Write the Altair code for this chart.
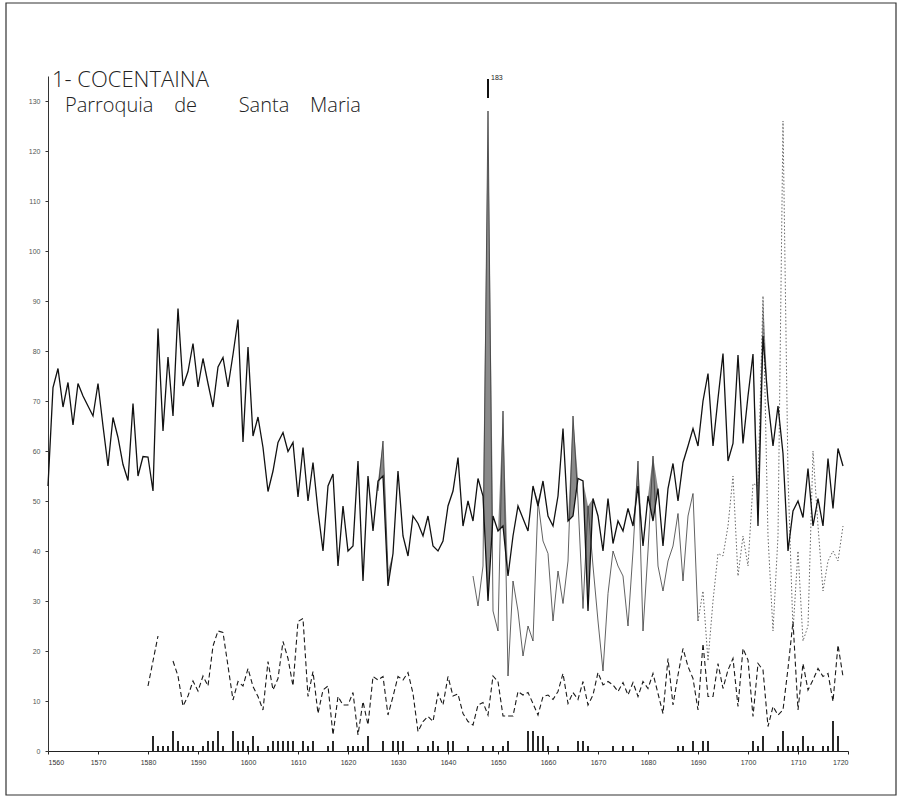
import altair as alt
import pandas as pd

# Annual series, Santa Maria parish (Cocentaina), 1560-1719
years = list(range(1560, 1720))

bautismos = [
    53, 72.7, 76.5, 68.8, 73.7, 65.2, 73.5, 71, 69, 67,            # 1560
    73.5, 65, 57, 66.7, 62.7, 57.3, 54.1, 69.5, 55, 58.9,           # 1570
    58.8, 52, 84.5, 64, 78.8, 67, 88.5, 73, 75.9, 81.5,             # 1580
    72.8, 78.5, 73.5, 68.8, 76.8, 78.7, 72.8, 79.3, 86.3, 61.8,     # 1590
    80.8, 63, 66.8, 60.7, 51.9, 56, 61.7, 63.7, 59.9, 61.7,         # 1600
    50.8, 60.7, 50, 57.7, 48, 40, 53, 55.4, 37, 49,                 # 1610
    40, 41, 58, 34, 55, 44, 54, 55, 33, 39.5,                       # 1620
    56, 43, 39, 47, 45.5, 43, 47, 41, 40, 42,                       # 1630
    49, 52, 58.7, 45, 50, 46, 54.5, 51, 30, 47,                     # 1640
    44, 45, 35, 43, 49, 46.5, 44, 53, 49, 54,                       # 1650
    47, 45, 51, 64.5, 46, 47, 54.5, 54, 28, 50.5,                   # 1660
    47, 40, 50.5, 41.5, 46, 44, 48.5, 45, 53, 41,                   # 1670
    51, 46, 52.5, 41, 52.5, 57.5, 50, 57.7, 61, 64.5,               # 1680
    61, 70, 75.5, 61, 70.5, 79.5, 58, 61.5, 79.2, 61.5,             # 1690
    71, 79.4, 45, 83, 70, 61, 69, 59.5, 40, 48,                     # 1700
    50, 46.7, 56.5, 45, 50.5, 45, 58.5, 48.5, 60.5, 57,             # 1710
]

# marriages start in 1580
matrimonios_desde_1580 = [
    13, 18, 23, None, None, 18, 15, 9, 11, 14,                      # 1580
    12, 15, 13, 21, 24, 23.7, 17, 10.2, 13.9, 13,                   # 1590
    16.5, 12.9, 10.9, 8.2, 17.9, 12.2, 14.5, 21.9, 18.5, 13,        # 1600
    25.9, 26.5, 10.9, 15.9, 7.5, 12.2, 13, 3.2, 10.9, 9.2,          # 1610
    9.2, 11.7, 3.2, 9.9, 5.2, 14.9, 14.2, 14.9, 7.2, 10.9,          # 1620
    14.9, 14.2, 15.7, 11.5, 3.9, 5.9, 6.9, 5.9, 11.5, 9.2,          # 1630
    14.9, 11, 11.4, 7.5, 5.9, 5.2, 9.2, 9.7, 7.2, 15,               # 1640
    13.9, 7, 7, 7, 11.9, 11.2, 11.7, 9.5, 7.2, 10.9,                # 1650
    11.2, 10.3, 11.9, 15.5, 9.5, 11.7, 10.3, 13.9, 9.2, 11.2,       # 1660
    15.7, 13.2, 13.9, 13.2, 11.9, 13.7, 11.2, 13.7, 10.9, 13.9,     # 1670
    12.5, 15.5, 11.5, 7.5, 18.5, 9.2, 15.2, 20.5, 16.9, 14.5,       # 1680
    8.2, 21.5, 10.9, 10.9, 17.5, 12.5, 16.2, 18.5, 8.9, 20.5,       # 1690
    18.2, 6.9, 17.5, 16.2, 4.9, 8.9, 7.2, 8.2, 16.5, 25.9,          # 1700
    8.2, 17.5, 12.2, 14.2, 16.5, 14.9, 15.5, 9.9, 21.2, 14.9,       # 1710
]

# burials: a short run in 1626-1628, then continuous from 1645
defunciones_1626 = [52, 62, 36]
defunciones_desde_1645 = [
    35, 29, 37, 183, 28,                                            # 1645
    24, 68, 15, 34, 28, 19, 25, 22, 50, 42,                         # 1650
    39.5, 26, 36, 29.5, 38, 67, 50, 28.5, 49, 37,                   # 1660
    26, 16, 31.5, 40, 37, 35, 25, 40, 58, 24,                       # 1670
    40, 59, 37, 32, 38, 41, 47.5, 34, 47, 51.5,                     # 1680
    26, 32, 18, 30, 39.5, 39, 45, 55, 35, 43,                       # 1690
    37, 53.5, 53, 91, 43, 24, 43, 126, 55, 24,                      # 1700
    40, 22, 25, 60, 45, 32, 38, 40, 38, 45,                         # 1710
]

# small yearly counts drawn as spikes on the baseline
expositos_anys = [
    1581, 1582, 1583, 1584, 1585, 1586, 1587, 1588, 1589, 1591, 1592, 1593,
    1594, 1595, 1597, 1598, 1599, 1600, 1601, 1602, 1604, 1605, 1606, 1607,
    1608, 1609, 1611, 1612, 1613, 1616, 1617, 1620, 1621, 1622, 1623, 1624,
    1627, 1629, 1630, 1631, 1634, 1636, 1637, 1638, 1640, 1641, 1644, 1647,
    1649, 1651, 1652, 1656, 1657, 1658, 1659, 1660, 1662, 1666, 1667, 1668,
    1673, 1675, 1677, 1686, 1687, 1689, 1691, 1692, 1701, 1702, 1703, 1706,
    1707, 1708, 1709, 1710, 1711, 1712, 1713, 1715, 1716, 1717, 1718,
]
expositos_n = [
    3, 1, 1, 1, 4, 2, 1, 1, 1, 1, 2, 2,
    4, 1, 4, 2, 2, 1, 3, 1, 1, 2, 2, 2,
    2, 2, 2, 1, 2, 1, 2, 1, 1, 1, 1, 3,
    2, 2, 2, 2, 1, 1, 2, 1, 2, 2, 1, 1,
    1, 1, 2, 4, 4, 3, 3, 1, 1, 2, 2, 1,
    1, 1, 1, 1, 1, 2, 2, 2, 2, 1, 3, 1,
    4, 1, 1, 1, 3, 1, 1, 1, 1, 6, 3,
]

NB = "\u00a0"
titulo = "1- COCENTAINA"
subtitulo = "Parroquia" + NB * 4 + "de" + NB * 8 + "Santa" + NB * 4 + "Maria"

x_ticks = list(range(1560, 1721, 10))
y_ticks = list(range(0, 131, 10))

# ---- tables ----
matrimonios = [None] * (1580 - 1560) + matrimonios_desde_1580
defunciones = [None] * len(years)
for i, v in enumerate(defunciones_1626):
    defunciones[1626 - 1560 + i] = v
for i, v in enumerate(defunciones_desde_1645):
    defunciones[1645 - 1560 + i] = v

df = pd.DataFrame({
    "year": years,
    "bautismos": bautismos,
    "matrimonios": matrimonios,
    "defunciones": defunciones,
})
bars = pd.DataFrame({"year": expositos_anys, "n": expositos_n})
labels = pd.DataFrame({"t": [titulo], "s": [subtitulo]})

CAP = 128  # drawing ceiling; larger values get a broken stub with their figure

x_enc = alt.X(
    "year:Q",
    scale=alt.Scale(domain=[1560, 1720], nice=False, zero=False),
    axis=alt.Axis(values=x_ticks, format="d", title=None, grid=False,
                  labelFontSize=7, labelColor="#333", tickSize=3,
                  labelPadding=4, domainColor="#222", tickColor="#222"),
)


def y_enc(field):
    return alt.Y(
        field,
        scale=alt.Scale(domain=[0, 135], nice=False),
        axis=alt.Axis(values=y_ticks, title=None, grid=False,
                      labelFontSize=7, labelColor="#555", tickSize=3,
                      labelPadding=5, domainColor="#333", tickColor="#333"),
    )


base = alt.Chart(df)

# burials above baptisms: shaded band
shade = base.transform_filter("datum.year <= 1704").transform_calculate(
    top=f"datum.defunciones == null ? datum.bautismos : "
        f"max(min(datum.defunciones, {CAP}), datum.bautismos)"
).mark_area(color="#6d6d6d", opacity=0.8, interpolate="linear").encode(
    x=x_enc, y=y_enc("bautismos:Q"), y2="top:Q"
)

bapt_line = base.mark_line(color="#111", strokeWidth=1.3).encode(
    x=x_enc, y=y_enc("bautismos:Q")
)

marr_line = base.mark_line(color="#1a1a1a", strokeWidth=1.1, strokeDash=[5, 3]).encode(
    x=x_enc, y=y_enc("matrimonios:Q")
)

deaths_calc = f"datum.defunciones == null ? null : min(datum.defunciones, {CAP})"
death_line = base.transform_filter("datum.year <= 1690").transform_calculate(
    d=deaths_calc
).mark_line(color="#3a3a3a", strokeWidth=0.8).encode(x=x_enc, y=y_enc("d:Q"))

death_dots = base.transform_filter("datum.year >= 1690").transform_calculate(
    d=deaths_calc
).mark_line(color="#555", strokeWidth=0.9, strokeDash=[1.5, 2]).encode(
    x=x_enc, y=y_enc("d:Q")
)

# broken stub and figure for the value that runs off the scale
over = base.transform_filter("datum.defunciones > 130").transform_calculate(
    lo="130.6", hi="134.4"
)
stub = over.mark_rule(color="#111", strokeWidth=2).encode(
    x=x_enc, y=y_enc("lo:Q"), y2="hi:Q"
)
stub_label = over.mark_text(align="left", baseline="middle", dx=3, dy=-1,
                            fontSize=7, color="#222", font="Liberation Sans").encode(
    x=x_enc, y=y_enc("hi:Q"), text="defunciones:Q"
)

spikes = alt.Chart(bars).mark_rule(color="#111", strokeWidth=1.8).encode(
    x=x_enc, y=y_enc("n:Q"), y2=alt.datum(0)
)

title_mark = alt.Chart(labels).mark_text(
    align="left", baseline="alphabetic", fontSize=22, font="Open Sans",
    fontWeight=300, color="#222"
).encode(x=alt.value(4), y=alt.value(11), text="t:N")

subtitle_mark = alt.Chart(labels).mark_text(
    align="left", baseline="alphabetic", fontSize=20, font="Open Sans",
    fontWeight=300, color="#222"
).encode(x=alt.value(17), y=alt.value(36), text="s:N")

frame = alt.Chart(labels).mark_rect(
    filled=False, stroke="#333", strokeWidth=1.2
).encode(x=alt.value(-42), x2=alt.value(848), y=alt.value(-73), y2=alt.value(719))

chart = alt.layer(
    shade, spikes, marr_line, death_line, death_dots, bapt_line,
    stub, stub_label, title_mark, subtitle_mark, frame
).properties(
    width=800,
    height=675,
    autosize=alt.AutoSizeParams(type="none"),
    padding={"left": 48, "top": 76, "right": 51, "bottom": 51},
    background="white",
).configure_view(stroke="transparent")

chart.save("out.html", embed_options={"renderer": "svg", "actions": False})
